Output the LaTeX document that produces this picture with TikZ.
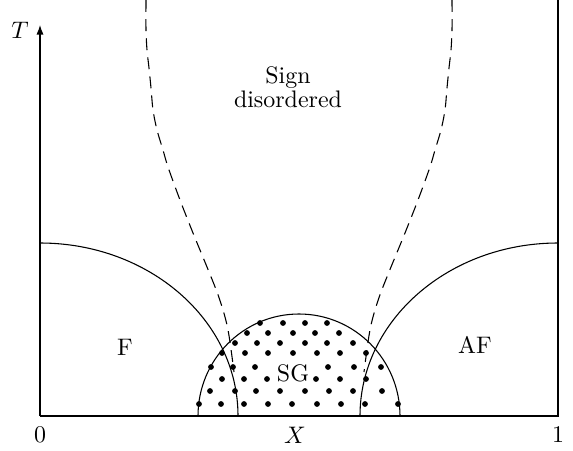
\documentclass[tikz,border=0pt]{standalone}
\usetikzlibrary{arrows.meta}

\begin{document}
\begin{tikzpicture}[
    x=0.0147cm, y=0.0147cm,
    fase/.style={align=center, inner sep=1pt},
    eixo/.style={-{Latex[length=4pt,width=3pt]}, line width=0.5pt},
    linha/.style={line width=0.45pt},
    tracejada/.style={line width=0.45pt, dash pattern=on 5pt off 3pt}
]
\useasboundingbox (-40,-34) rectangle (533,416);

% Eixos
\coordinate (origem) at (0,0);
\coordinate (topoT) at (0,391);
\coordinate (fimX) at (518,0);
\coordinate (topoDir) at (518,416);
\draw[linha] (topoDir) -- (fimX) -- (origem);
\draw[eixo] (origem) -- (topoT);

\node (T) at (-20,386) {$T$};
\node (zero) at (0,-19) {0};
\node (X) at (255,-19) {$X$};
\node (um) at (518,-19) {1};

% Fronteiras F, AF e SG
\draw[linha] (0,173) arc[start angle=90, end angle=0, x radius=198, y radius=173];
\draw[linha] (518,173) arc[start angle=90, end angle=180, x radius=198, y radius=173];
\draw[linha] (158,0) arc[start angle=180, end angle=0, x radius=101, y radius=102];

% Linhas tracejadas
\draw[tracejada] plot[smooth, tension=0.5] coordinates
    {(106,416) (106,386) (107,366) (109,348) (111,328) (113,306) (117,286) (123,266)
     (128,249) (140,216) (153,183) (167,149) (177,124) (183,106) (187,91) (190,74) (194,44)};
\draw[tracejada] plot[smooth, tension=0.5] coordinates
    {(412,416) (412,386) (411,366) (409,348) (407,328) (405,306) (401,286) (395,266)
     (390,249) (378,216) (365,183) (351,149) (341,124) (335,106) (331,91) (328,74) (324,44)};

% Pontos da fase SG
\foreach \yy/\xlista in {93/{220,243,265,287},
                         83/{207,228,253,275,299},
                         73/{195,217,240,265,287,313},
                         63/{182,205,228,253,277,300,326},
                         49/{171,193,215,288,314,341},
                         37/{182,204,227,276,300,326},
                         25/{170,195,216,240,265,289,313,342},
                         12/{159,181,204,228,252,277,301,325,358}}
  \foreach \xx in \xlista
    \fill (\xx,\yy) circle[radius=2.9];

% Fases
\node[fase] (F) at (85,69) {F};
\node[fase] (AF) at (435,71) {AF};
\node[fase, fill=white, inner sep=0pt] (SG) at (253,43) {SG};
\node[fase] (desordem) at (248,329) {Sign\\[-2pt]disordered};

\end{tikzpicture}
\end{document}
